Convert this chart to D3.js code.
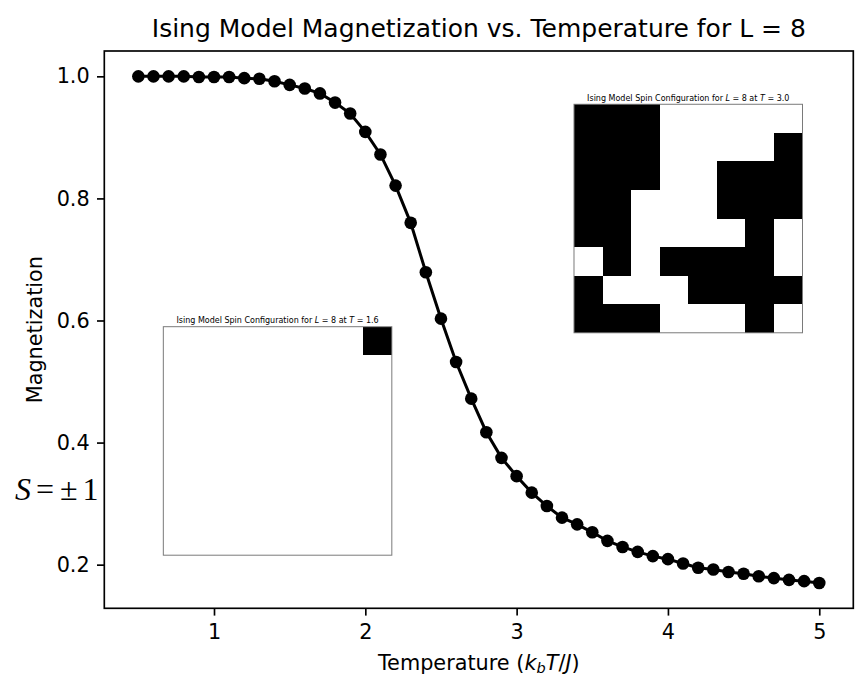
<!DOCTYPE html>
<html lang="en">
<head>
<meta charset="UTF-8">
<title>Ising magnetization</title>
<script src="https://d3js.org/d3.v7.min.js"></script>
<style>
  body { margin: 0; background: #fff; }
  text { font-family: "DejaVu Sans", sans-serif; fill: #000; }
</style>
</head>
<body>
<div id="chart"></div>
<script>
// temperatures (k_b T / J) and mean magnetization
const temps = [0.5, 0.6, 0.7, 0.8, 0.9, 1.0, 1.1, 1.2, 1.3, 1.4,
               1.5, 1.6, 1.7, 1.8, 1.9, 2.0, 2.1, 2.2, 2.3, 2.4,
               2.5, 2.6, 2.7, 2.8, 2.9, 3.0, 3.1, 3.2, 3.3, 3.4,
               3.5, 3.6, 3.7, 3.8, 3.9, 4.0, 4.1, 4.2, 4.3, 4.4,
               4.5, 4.6, 4.7, 4.8, 4.9, 5.0]
const magnetization = [1.000, 1.000, 1.000, 1.000, 0.999, 0.999, 0.999, 0.997, 0.996, 0.992,
                       0.986, 0.980, 0.972, 0.957, 0.939, 0.909, 0.872, 0.821, 0.760, 0.679,
                       0.603, 0.532, 0.472, 0.417, 0.375, 0.345, 0.318, 0.296, 0.277, 0.266,
                       0.253, 0.239, 0.229, 0.221, 0.214, 0.209, 0.202, 0.195, 0.192, 0.188,
                       0.185, 0.181, 0.178, 0.175, 0.173, 0.170]

const xTicks = [1, 2, 3, 4, 5]
const yTicks = [0.2, 0.4, 0.6, 0.8, 1.0]

// spin snapshots, +1 = white, -1 = black (row 0 at the top)
const spinsT30 = [
  [-1, -1, -1,  1,  1,  1,  1,  1],
  [-1, -1, -1,  1,  1,  1,  1, -1],
  [-1, -1, -1,  1,  1, -1, -1, -1],
  [-1, -1,  1,  1,  1, -1, -1, -1],
  [-1, -1,  1,  1,  1,  1, -1,  1],
  [ 1, -1,  1, -1, -1, -1, -1,  1],
  [-1,  1,  1,  1, -1, -1, -1, -1],
  [-1, -1, -1,  1,  1,  1, -1,  1]
]
const spinsT16 = [
  [ 1,  1,  1,  1,  1,  1,  1, -1],
  [ 1,  1,  1,  1,  1,  1,  1,  1],
  [ 1,  1,  1,  1,  1,  1,  1,  1],
  [ 1,  1,  1,  1,  1,  1,  1,  1],
  [ 1,  1,  1,  1,  1,  1,  1,  1],
  [ 1,  1,  1,  1,  1,  1,  1,  1],
  [ 1,  1,  1,  1,  1,  1,  1,  1],
  [ 1,  1,  1,  1,  1,  1,  1,  1]
]

const W = 868, H = 676
const margin = {top: 51, right: 14.7, bottom: 67.7, left: 104.3},
      width = W - margin.left - margin.right,
      height = H - margin.top - margin.bottom

const svg = d3.select("#chart").append("svg")
    .attr("width", W)
    .attr("height", H)

const g = svg.append("g")
    .attr("transform", `translate(${margin.left},${margin.top})`)

// matplotlib style 5% padding around the data
const xExt = d3.extent(temps), yExt = d3.extent(magnetization)
const xPad = (xExt[1] - xExt[0]) * 0.05, yPad = (yExt[1] - yExt[0]) * 0.05

const x = d3.scaleLinear()
    .domain([xExt[0] - xPad, xExt[1] + xPad])
    .range([0, width])
const y = d3.scaleLinear()
    .domain([yExt[0] - yPad, yExt[1] + yPad])
    .range([height, 0])

const tickFont = 20.8

const xAxis = g.append("g")
    .attr("transform", `translate(0,${height})`)
    .call(d3.axisBottom(x).tickValues(xTicks).tickFormat(d3.format("d"))
      .tickSize(7.3).tickPadding(9).tickSizeOuter(0))
const yAxis = g.append("g")
    .call(d3.axisLeft(y).tickValues(yTicks).tickFormat(d3.format(".1f"))
      .tickSize(7.3).tickPadding(7.3).tickSizeOuter(0))

for (const ax of [xAxis, yAxis]) {
  ax.select(".domain").remove()
  ax.selectAll(".tick line").attr("stroke", "#000").attr("stroke-width", 1.67)
  ax.selectAll(".tick text")
      .style("font-family", "DejaVu Sans")
      .style("font-size", tickFont + "px")
      .attr("fill", "#000")
}

// line + markers
const line = d3.line()
    .x((d, i) => x(temps[i]))
    .y(d => y(d))

g.append("path")
    .datum(magnetization)
    .attr("fill", "none")
    .attr("stroke", "#000")
    .attr("stroke-width", 3)
    .attr("d", line)

g.selectAll(".dot")
  .data(magnetization)
  .join("circle")
    .attr("class", "dot")
    .attr("cx", (d, i) => x(temps[i]))
    .attr("cy", d => y(d))
    .attr("r", 6.3)
    .attr("fill", "#000")

// inset spin configurations, placed in axes fractions like inset_axes
function drawInset(spins, temp, fx, fy) {
  const size = 228.5
  const L = spins.length
  const ig = g.append("g")
      .attr("transform", `translate(${fx * width},${fy * height})`)
  const band = d3.scaleBand().domain(d3.range(L)).range([0, size])

  ig.selectAll("g.row")
    .data(spins)
    .join("g")
      .attr("class", "row")
      .attr("transform", (d, r) => `translate(0,${band(r)})`)
    .selectAll("rect")
    .data(d => d)
    .join("rect")
      .attr("x", (d, c) => band(c))
      .attr("width", band.bandwidth() + 0.6)
      .attr("height", band.bandwidth() + 0.6)
      .attr("shape-rendering", "crispEdges")
      .attr("fill", d => d > 0 ? "#fff" : "#000")

  ig.append("rect")
      .attr("width", size)
      .attr("height", size)
      .attr("fill", "none")
      .attr("stroke", "#7a7a7a")
      .attr("stroke-width", 1)

  const t = ig.append("text")
      .attr("x", size / 2)
      .attr("y", -3.5)
      .attr("text-anchor", "middle")
      .style("font-size", "8px")
  t.append("tspan").text("Ising Model Spin Configuration for ")
  t.append("tspan").attr("font-style", "italic").text("L")
  t.append("tspan").text(` = ${L} at `)
  t.append("tspan").attr("font-style", "italic").text("T")
  t.append("tspan").text(` = ${temp.toFixed(1)}`)
}

drawInset(spinsT30, 3.0, 0.6271, 0.0956)
drawInset(spinsT16, 1.6, 0.0788, 0.4947)

// frame
g.append("rect")
    .attr("width", width)
    .attr("height", height)
    .attr("fill", "none")
    .attr("stroke", "#000")
    .attr("stroke-width", 1.67)

// title and labels
svg.append("text")
    .attr("x", margin.left + width / 2)
    .attr("y", 36.5)
    .attr("text-anchor", "middle")
    .style("font-size", "25px")
    .text("Ising Model Magnetization vs. Temperature for L = 8")

const xl = svg.append("text")
    .attr("x", margin.left + width / 2)
    .attr("y", 670)
    .attr("text-anchor", "middle")
    .style("font-size", tickFont + "px")
xl.append("tspan").text("Temperature (")
xl.append("tspan").attr("font-style", "italic").text("k")
xl.append("tspan").attr("font-style", "italic").attr("font-size", "14.5px").attr("dy", 3).text("b")
xl.append("tspan").attr("font-style", "italic").attr("dy", -3).text("T")
xl.append("tspan").text("/")
xl.append("tspan").attr("font-style", "italic").text("J")
xl.append("tspan").text(")")

svg.append("text")
    .attr("transform", `translate(42,${margin.top + height / 2}) rotate(-90)`)
    .attr("text-anchor", "middle")
    .style("font-size", tickFont + "px")
    .text("Magnetization")

// spin value note in the left margin
const s = svg.append("text")
    .attr("x", 15)
    .attr("y", 500)
    .style("font-family", "Liberation Serif, serif")
    .style("font-size", "32px")
s.append("tspan").attr("font-style", "italic").text("S")
s.append("tspan").attr("dx", 5).text("=")
s.append("tspan").attr("dx", 6).text("±")
s.append("tspan").attr("dx", 5).text("1")
</script>
</body>
</html>
